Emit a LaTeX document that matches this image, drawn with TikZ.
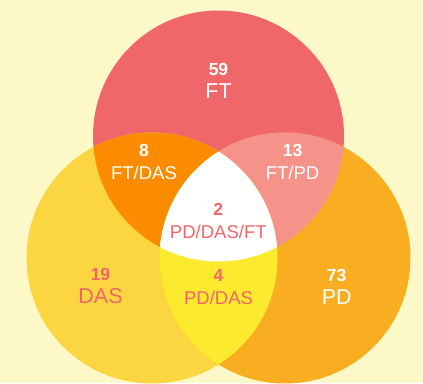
\documentclass[tikz,border=0pt]{standalone}
\usepackage{fontspec}
\setmainfont{Liberation Sans}
\usetikzlibrary{positioning}
\definecolor{bgyellow}{RGB}{253,248,200}
\definecolor{ftred}{RGB}{240,103,106}
\definecolor{dasyellow}{RGB}{252,214,64}
\definecolor{pdorange}{RGB}{249,174,34}
\definecolor{ftdas}{RGB}{251,140,0}
\definecolor{ftpd}{RGB}{245,147,138}
\definecolor{pddas}{RGB}{251,234,45}
\newcommand{\vnum}[1]{{\fontsize{17.5}{23}\selectfont\bfseries #1}}

\begin{document}
\begin{tikzpicture}[x=1pt, y=-1pt, outer/.style={align=center, inner sep=0pt, font=\fontsize{21.5}{23}\selectfont}, inner/.style={align=center, inner sep=0pt, font=\fontsize{18.5}{23}\selectfont}]
\fill[bgyellow] (0,0) rectangle (423,383);
\useasboundingbox (0,0) rectangle (423,383);
\coordinate (ftc) at (218.5,136);
\coordinate (dasc) at (152,258);
\coordinate (pdc) at (285,258);
\fill[ftred] (ftc) circle[radius=125.5];
\fill[dasyellow] (dasc) circle[radius=125.5];
\fill[pdorange] (pdc) circle[radius=125.5];
\begin{scope}
\clip (ftc) circle[radius=125.5];
\fill[ftdas] (dasc) circle[radius=125.5];
\fill[ftpd] (pdc) circle[radius=125.5];
\end{scope}
\begin{scope}
\clip (dasc) circle[radius=125.5];
\fill[pddas] (pdc) circle[radius=125.5];
\clip (pdc) circle[radius=125.5];
\fill[white] (ftc) circle[radius=125.5];
\end{scope}
\node[outer, text=white] (ft) at (218.5,81) {\vnum{59}\\FT};
\node[inner, text=white] (ftdasl) at (144,162) {\vnum{8}\\FT/DAS};
\node[inner, text=white] (ftpdl) at (292.5,162) {\vnum{13}\\FT/PD};
\node[inner, text=ftred] (all) at (218.3,221) {\vnum{2}\\PD/DAS/FT};
\node[outer, text=ftred] (das) at (100.5,286) {\vnum{19}\\DAS};
\node[inner, text=ftred] (pddasl) at (218.5,287) {\vnum{4}\\PD/DAS};
\node[outer, text=white] (pd) at (336.7,287) {\vnum{73}\\PD};
\end{tikzpicture}
\end{document}
